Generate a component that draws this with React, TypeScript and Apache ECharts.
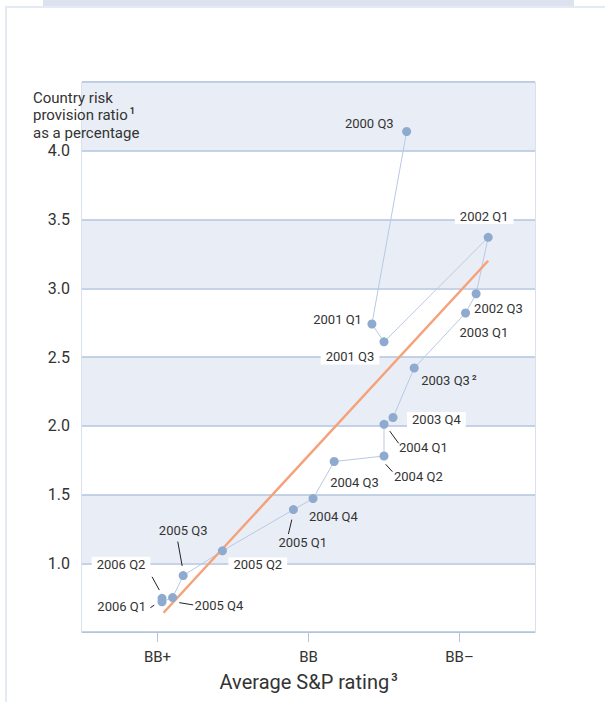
import React, { useEffect, useRef } from 'react';
import * as echarts from 'echarts';

// ---- data ----
const quarters = [
  '2000 Q3', '2001 Q1', '2001 Q3', '2002 Q1', '2002 Q3', '2003 Q1', '2003 Q3', '2003 Q4',
  '2004 Q1', '2004 Q2', '2004 Q3', '2004 Q4', '2005 Q1', '2005 Q2', '2005 Q3', '2005 Q4',
  '2006 Q1', '2006 Q2',
];
// average S&P rating on a notch scale: BB+ = 1, BB = 2, BB– = 3
const ratingNotch = [
  2.65, 2.42, 2.5, 3.19, 3.11, 3.04, 2.7, 2.56,
  2.5, 2.5, 2.17, 2.03, 1.9, 1.43, 1.17, 1.1,
  1.03, 1.03,
];
// country risk provision ratio, %
const provisionRatio = [
  4.14, 2.74, 2.61, 3.37, 2.96, 2.82, 2.42, 2.06,
  2.01, 1.78, 1.74, 1.47, 1.39, 1.09, 0.91, 0.75,
  0.72, 0.745,
];
const fitLineX = [1.04, 3.19];
const fitLineY = [0.64, 3.2];
const ratingTicks = [1, 2, 3];
const ratingLabels = ['BB+', 'BB', 'BB–'];
const labelSuperscripts: Record<string, string> = { '2003 Q3': '2' };

// ---- label placement (pixel offsets from the point) ----
type Place = { dx: number; dy: number; align: 'left' | 'right' | 'center'; bg?: boolean; lead?: number[] };
const placement: Place[] = [
  { dx: -13, dy: -8, align: 'right' },
  { dx: -10, dy: -5, align: 'right' },
  { dx: -34, dy: 15, align: 'center', bg: true },
  { dx: -4, dy: -21, align: 'center', bg: true },
  { dx: -2, dy: 15, align: 'left' },
  { dx: -6, dy: 19, align: 'left' },
  { dx: 7, dy: 12, align: 'left' },
  { dx: 14, dy: 2, align: 'left', bg: true },
  { dx: 15, dy: 23, align: 'left', lead: [5.7, 6.7, 14.7, 19] },
  { dx: 10, dy: 20, align: 'left', lead: [1.7, 8.3, 8.4, 15.7] },
  { dx: -4, dy: 21, align: 'left' },
  { dx: -4, dy: 18, align: 'left' },
  { dx: -15, dy: 33, align: 'left', lead: [-1.6, 10, -5, 24.4] },
  { dx: 6, dy: 14, align: 'left', bg: true },
  { dx: 0, dy: -45, align: 'center', lead: [-5.4, -34, -1, -9.7] },
  { dx: 22, dy: 8, align: 'left', lead: [6.6, 5, 20.6, 7.3] },
  { dx: -16, dy: 5, align: 'right', lead: [-11.7, 6, -7.7, 3.3] },
  { dx: -41, dy: -34, align: 'center', bg: true, lead: [-10, -21.5, -2.7, -8.2] },
];

const FONT = 'Roboto, "Noto Sans", sans-serif';
const TEXT = '#333333';
const GRID = '#b3c4df';
const BAND = '#e9eef6';
const SUP = { fontSize: 9, fontWeight: 'bold' as const, verticalAlign: 'top' as const, padding: [0, 0, 0, 2], fill: TEXT, color: TEXT, fontFamily: FONT };

export default function App() {
  const ref = useRef<HTMLDivElement>(null);
  useEffect(() => {
    if (!ref.current) return;
    const chart = echarts.init(ref.current, undefined, { renderer: 'svg' });
    const points = quarters.map((q, i) => [ratingNotch[i], provisionRatio[i], i]);
    chart.setOption({
      animation: false,
      backgroundColor: '#ffffff',
      title: {
        text: 'Country risk\nprovision ratio{s|1}\nas a percentage',
        left: 33,
        top: 89,
        padding: 0,
        textStyle: {
          fontFamily: FONT,
          fontSize: 15,
          fontWeight: 'normal',
          color: TEXT,
          lineHeight: 17.5,
          rich: { s: { ...SUP, fontSize: 9 } },
        },
      },
      graphic: [
        { type: 'rect', shape: { x: 43, y: 0, width: 531, height: 6 }, style: { fill: '#dce3ef' }, silent: true },
        { type: 'rect', shape: { x: 5, y: 6, width: 600, height: 2 }, style: { fill: '#e4eaf3' }, silent: true },
        { type: 'rect', shape: { x: 5, y: 6, width: 2, height: 696 }, style: { fill: '#e4eaf3' }, silent: true },
      ],
      grid: {
        left: 82,
        right: 70,
        top: 82,
        bottom: 70,
        show: true,
        borderColor: GRID,
        borderWidth: 1,
        backgroundColor: 'transparent',
      },
      xAxis: {
        type: 'value',
        min: 0.5,
        max: 3.5,
        axisLine: { show: true, lineStyle: { color: GRID, width: 1 } },
        axisTick: { show: true, customValues: ratingTicks, length: 10, lineStyle: { color: GRID } },
        axisLabel: {
          customValues: ratingTicks,
          formatter: (v: number) => ratingLabels[ratingTicks.indexOf(Math.round(v))] ?? '',
          margin: 17,
          fontFamily: FONT,
          fontSize: 15,
          color: TEXT,
        },
        splitLine: { show: false },
        name: 'Average S&P rating{s|3}',
        nameLocation: 'middle',
        nameGap: 40,
        nameTextStyle: {
          fontFamily: FONT,
          fontSize: 20,
          color: TEXT,
          rich: { s: { ...SUP, fontSize: 11 } },
        },
      },
      yAxis: {
        type: 'value',
        min: 0.5,
        max: 4.5,
        interval: 0.5,
        axisLine: { show: false },
        axisTick: { show: false },
        axisLabel: {
          formatter: (v: number) => (v < 0.9 || v > 4.1 ? '' : v.toFixed(1)),
          margin: 12,
          fontFamily: FONT,
          fontSize: 16,
          color: TEXT,
        },
        splitLine: { show: true, lineStyle: { color: GRID, width: 1.5 } },
        splitArea: { show: true, areaStyle: { color: ['#ffffff', BAND] } },
      },
      series: [
        {
          type: 'line',
          data: points.map((p) => [p[0], p[1]]),
          symbol: 'none',
          lineStyle: { color: '#b9c9e3', width: 1 },
          z: 2,
        },
        {
          type: 'line',
          data: fitLineX.map((x, i) => [x, fitLineY[i]]),
          symbol: 'none',
          lineStyle: { color: '#f5a27a', width: 2.5 },
          z: 3,
        },
        {
          type: 'scatter',
          data: points.map((p) => [p[0], p[1]]),
          symbol: 'circle',
          symbolSize: 9,
          itemStyle: { color: '#8eabcf', opacity: 1 },
          z: 4,
        },
        {
          type: 'custom',
          data: points,
          encode: { x: 0, y: 1 },
          z: 5,
          renderItem: (params: any, api: any) => {
            const i = params.dataIndex;
            const p = api.coord([api.value(0), api.value(1)]);
            const s = placement[i];
            const q = quarters[i];
            const sup = labelSuperscripts[q];
            const children: any[] = [];
            if (s.lead) {
              children.push({
                type: 'line',
                shape: { x1: p[0] + s.lead[0], y1: p[1] + s.lead[1], x2: p[0] + s.lead[2], y2: p[1] + s.lead[3] },
                style: { stroke: '#222222', lineWidth: 1 },
              });
            }
            children.push({
              type: 'text',
              x: p[0] + s.dx,
              y: p[1] + s.dy,
              style: {
                text: sup ? `${q}{s|${sup}}` : q,
                rich: { s: { ...SUP, fontSize: 8 } },
                fill: TEXT,
                fontFamily: FONT,
                fontSize: 13,
                align: s.align,
                verticalAlign: 'middle',
                backgroundColor: s.bg ? '#ffffff' : undefined,
                padding: s.bg ? [1, 5] : 0,
              },
            });
            return { type: 'group', children };
          },
        },
      ],
    });
    return () => chart.dispose();
  }, []);
  return <div ref={ref} style={{ position: 'absolute', left: 0, top: 0, width: 605, height: 702 }} />;
}
